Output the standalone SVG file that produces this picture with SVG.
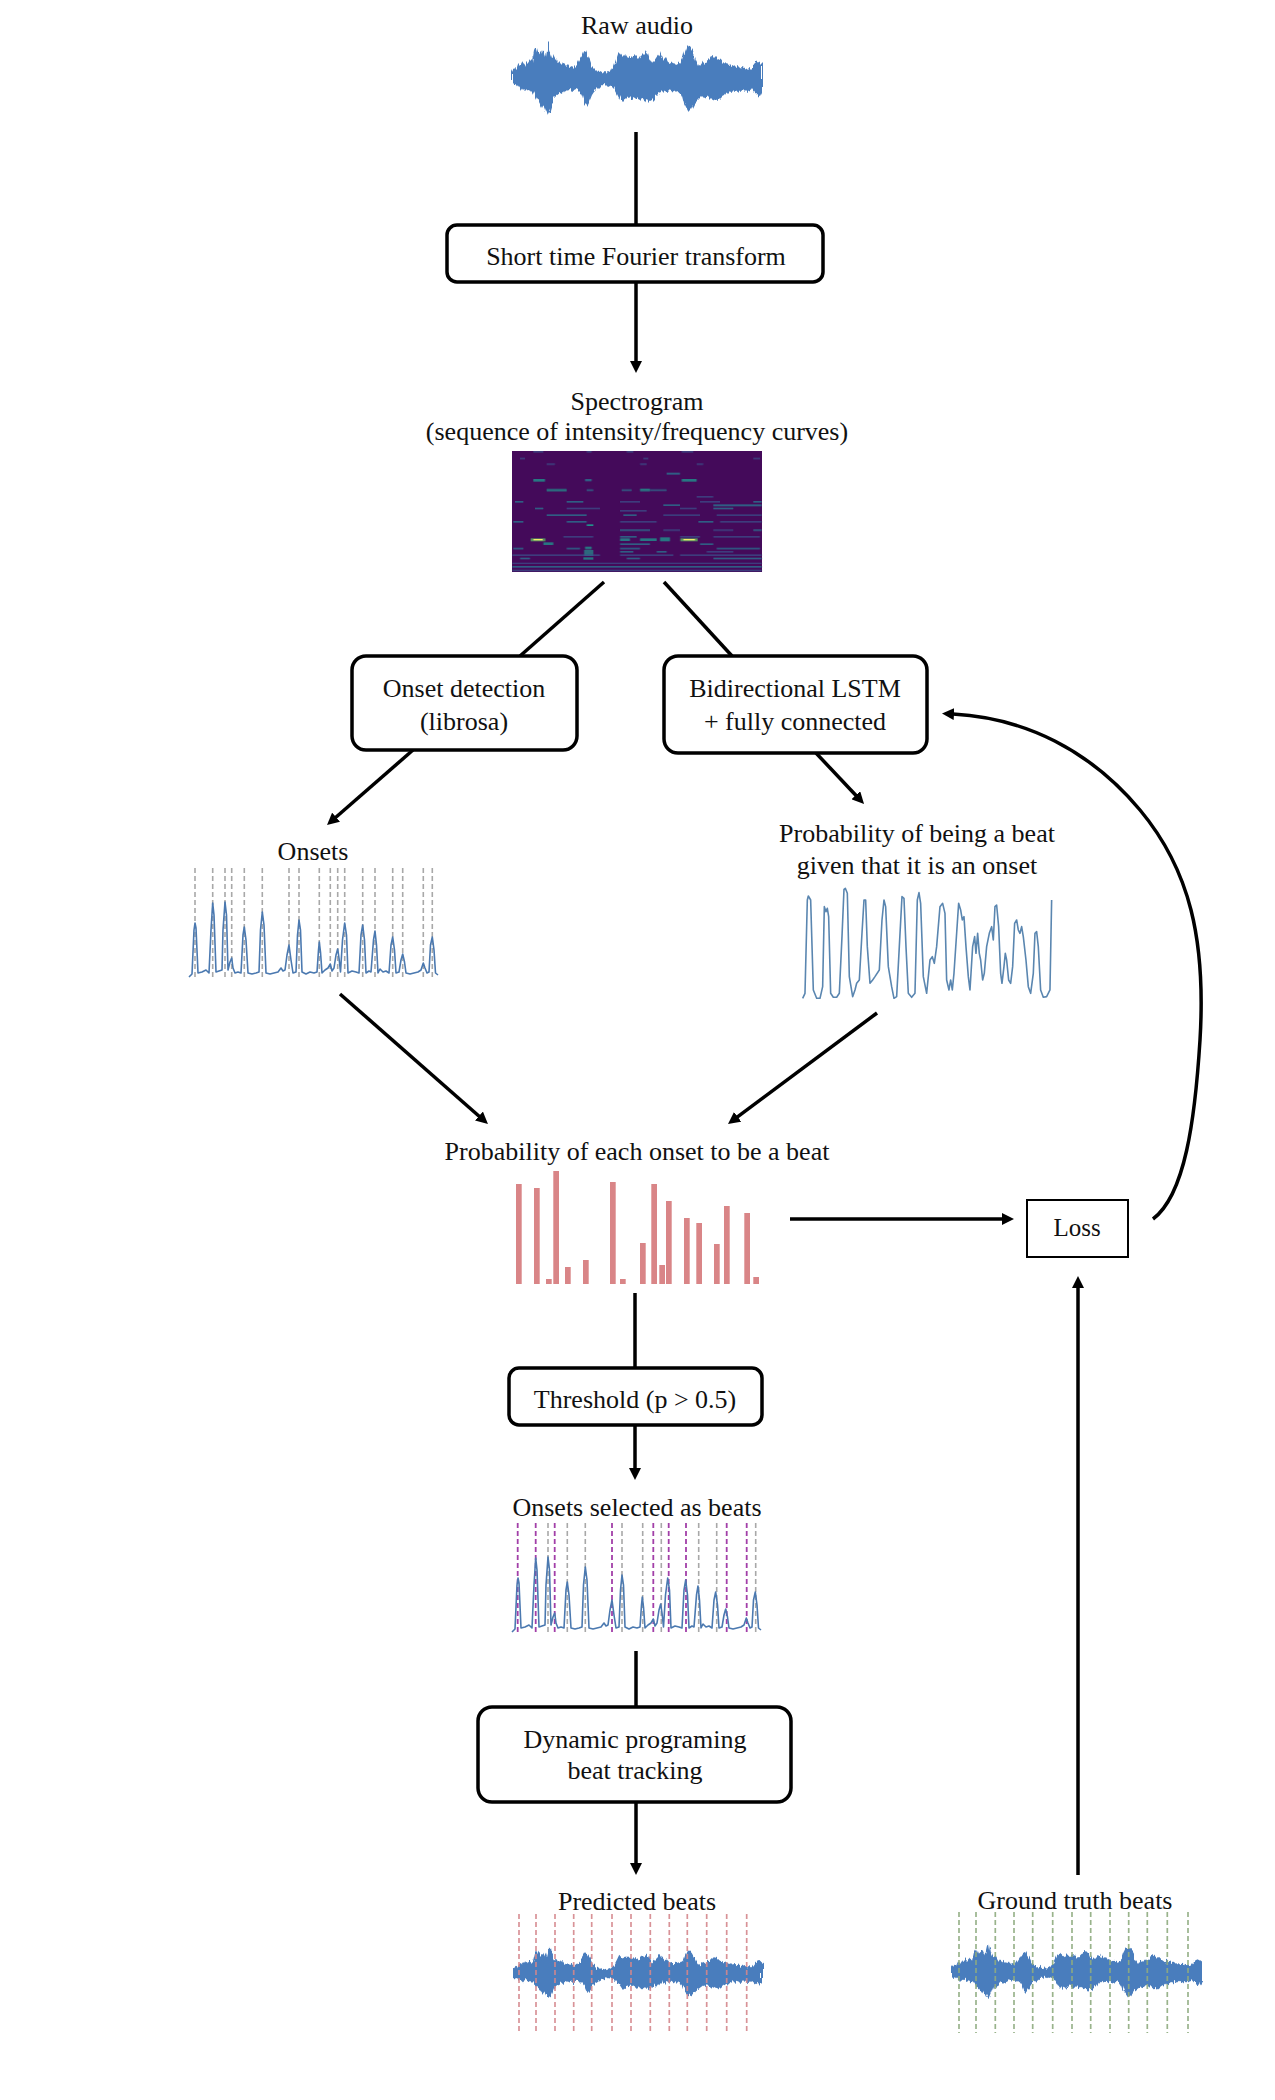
<svg xmlns="http://www.w3.org/2000/svg" xmlns:xlink="http://www.w3.org/1999/xlink" width="1275" height="2100" viewBox="0 0 1275 2100">
<style>
text{font-family:"Liberation Serif","Times New Roman",serif;font-size:26px;fill:#111;text-anchor:middle}
.box{fill:#fff;stroke:#000;stroke-width:3.5}
.conn{fill:none;stroke:#000;stroke-width:3.5}
.wave{fill:#4a7dbd}
.gdash{stroke:#a8a8a8;stroke-width:1.6;stroke-dasharray:5 3}
.pdash{stroke:#a23fa8;stroke-width:1.8;stroke-dasharray:5 3}
.rdash{stroke:#d4878c;stroke-width:1.7;stroke-dasharray:5 3;opacity:.9}
.grdash{stroke:#8fab7f;stroke-width:1.7;stroke-dasharray:5 3;opacity:.9}
.curve{fill:none;stroke:#4b79b0;stroke-width:1.6;stroke-linejoin:round}
.bar{fill:#d98587}
.s1{fill:#3b528b;opacity:.7}
.s2{fill:#2c728e;opacity:.8}
.s3{fill:#21918c}
.s4{fill:#5ec962;opacity:.7}
.s5{fill:#f4ec6a}
</style>
<defs>
<marker id="arr" markerUnits="userSpaceOnUse" markerWidth="12" markerHeight="12" refX="1" refY="6" orient="auto">
<path d="M0,0 L12,6 L0,12 z" fill="#000"/>
</marker>
<filter id="jag" x="-3%" y="-30%" width="106%" height="160%">
<feTurbulence type="fractalNoise" baseFrequency="0.45 0.03" numOctaves="2" seed="7" result="n"/>
<feDisplacementMap in="SourceGraphic" in2="n" scale="7" xChannelSelector="R" yChannelSelector="G"/>
</filter>
<filter id="soft" x="-5%" y="-5%" width="110%" height="110%">
<feGaussianBlur stdDeviation="0.6"/>
</filter>
<path id="wave" d="M512,72 L514,68 516,70 518,64 520,66 522,62 524,65 526,61 528,63 530,60 532,62 534,50 536,46 537,48 539,55 541,52 543,50 545,56 547,44 549,42 550,50 552,56 554,60 556,58 558,63 560,61 562,65 564,63 566,66 568,64 570,67 572,66 574,68 576,66 578,62 580,58 582,55 584,50 586,51 588,56 590,60 592,66 594,68 596,70 598,72 600,71 602,73 604,72 606,74 608,71 610,72 612,68 614,66 616,60 618,54 620,52 622,55 624,57 626,54 628,57 630,56 632,58 634,55 636,57 638,59 640,56 642,54 644,52 646,50 648,53 650,60 652,63 654,61 656,58 658,55 660,52 662,57 664,60 666,58 668,62 670,63 672,64 674,63 676,65 678,64 680,63 682,60 684,52 686,46 688,44 690,47 692,50 694,55 696,62 698,66 700,65 702,62 704,64 706,61 708,60 710,58 712,55 714,56 716,58 718,60 720,59 722,62 724,64 726,63 728,65 730,64 732,66 734,65 736,67 738,66 740,68 742,67 744,68 746,69 748,68 750,70 752,68 754,64 756,62 758,61 760,62 762,64 L762,92 760,96 758,95 756,94 754,92 752,89 750,90 748,91 746,90 744,92 742,91 740,90 738,92 736,91 734,90 732,92 730,91 728,93 726,92 724,95 722,96 720,98 718,100 716,99 714,101 712,100 710,98 708,96 706,97 704,98 702,96 700,98 698,100 696,102 694,104 692,108 690,110 688,112 686,108 684,104 682,96 680,92 678,91 676,90 674,92 672,91 670,90 668,92 666,91 664,92 662,90 660,92 658,96 656,94 654,98 652,100 650,101 648,103 646,100 644,101 642,98 640,100 638,99 636,97 634,99 632,98 630,96 628,97 626,99 624,100 622,102 620,100 618,96 616,92 614,88 612,86 610,85 608,86 606,84 604,86 602,85 600,87 598,88 596,90 594,92 592,95 590,100 588,104 586,106 584,103 582,96 580,92 578,90 576,89 574,90 572,91 570,89 568,90 566,92 564,91 562,94 560,93 556,96 554,98 552,105 550,112 548,114 546,110 544,104 542,108 540,104 538,100 536,98 534,94 532,90 530,92 528,89 526,90 524,88 522,90 520,87 518,88 516,85 514,86 512,84 z"/>
<path id="onsetCurve" d="M189,977 L192,974 L194,930 L195,923 L196,928 L198,973 L202,972 L206,970 L209,973 L211,930 L212.7,903 L214,915 L216,972 L219,971 L222,970 L223,930 L225,902 L226.5,915 L228,970 L230,962 L231.7,958 L233,968 L235,973 L238,972 L241,973 L243,935 L244.3,927 L246,940 L248,973 L252,974 L256,973 L259,972 L260.5,930 L262.3,912 L264,925 L266,973 L270,974 L274,973 L278,972 L281,968 L283,971 L285,970 L287,955 L289,945 L291,960 L293,973 L296,972 L297.5,935 L299,920 L300.5,930 L302,972 L306,974 L310,972 L314,973 L317,972 L318.5,950 L319.3,942 L320.5,952 L322,973 L325,970 L328,968 L330.3,964 L332,971 L334,968 L336,955 L337.7,949 L339,958 L340.5,972 L342.5,940 L344.7,923 L346.5,935 L348,973 L352,971 L356,972 L359,973 L361,935 L362.7,925 L364.5,940 L366,973 L369,971 L371,972 L373.5,940 L375,931 L376.5,945 L378,973 L380,969 L383,972 L386,971 L389,973 L391,945 L392.7,937 L394.5,950 L396,973 L399,972 L401,960 L402.7,954 L404.5,962 L406,973 L410,974 L414,973 L418,972 L421,970 L423.3,963 L425,968 L427,973 L429,972 L430.5,945 L432.3,937 L434,950 L435.5,973 L438,975"/>
</defs>

<g id="connectors">
<line class="conn" x1="636" y1="132" x2="636" y2="225"/>
<line class="conn" x1="636" y1="282" x2="636" y2="362" marker-end="url(#arr)"/>
<line class="conn" x1="604" y1="582" x2="520" y2="656"/>
<line class="conn" x1="664" y1="582" x2="732" y2="656"/>
<line class="conn" x1="413" y1="750" x2="335.3" y2="817.8" marker-end="url(#arr)"/>
<line class="conn" x1="816" y1="753" x2="856.5" y2="796" marker-end="url(#arr)"/>
<line class="conn" x1="340" y1="994" x2="479.7" y2="1116.7" marker-end="url(#arr)"/>
<line class="conn" x1="877" y1="1013" x2="736.8" y2="1117.4" marker-end="url(#arr)"/>
<line class="conn" x1="635" y1="1293" x2="635" y2="1368"/>
<line class="conn" x1="790" y1="1219" x2="1003" y2="1219" marker-end="url(#arr)"/>
<path class="conn" d="M1153,1219 C1185,1195 1195,1120 1200,1040 C1206,940 1190,870 1140,810 C1090,750 1025,718 953,714" marker-end="url(#arr)"/>
<line class="conn" x1="635" y1="1425" x2="635" y2="1469" marker-end="url(#arr)"/>
<line class="conn" x1="636" y1="1651" x2="636" y2="1707"/>
<line class="conn" x1="636" y1="1802" x2="636" y2="1864" marker-end="url(#arr)"/>
<line class="conn" x1="1078" y1="1875" x2="1078" y2="1287" marker-end="url(#arr)"/>
</g>

<g id="raw-audio">
<text x="637" y="34">Raw audio</text>
<g filter="url(#jag)"><use xlink:href="#wave" class="wave"/></g>
</g>

<g id="stft">
<rect class="box" x="447" y="225" width="376" height="57" rx="10"/>
<text x="636" y="265">Short time Fourier transform</text>
</g>

<g id="spectrogram">
<text x="637" y="410">Spectrogram</text>
<text x="637" y="440">(sequence of intensity/frequency curves)</text>
<rect x="512" y="451" width="250" height="121" fill="#440a5a"/>
<g transform="translate(500,440) scale(0.3333)" filter="url(#soft)">
<rect class="s1" x="100" y="33" width="30" height="5"/><rect class="s1" x="260" y="33" width="15" height="5"/><rect class="s1" x="380" y="33" width="20" height="5"/><rect class="s1" x="545" y="33" width="35" height="5"/>
<rect class="s1" x="60" y="53" width="15" height="5"/><rect class="s1" x="430" y="53" width="15" height="5"/><rect class="s1" x="760" y="53" width="20" height="5"/>
<rect class="s1" x="140" y="70" width="25" height="5"/><rect class="s1" x="420" y="70" width="20" height="5"/><rect class="s1" x="590" y="70" width="20" height="5"/>
<rect class="s2" x="500" y="98" width="40" height="6"/>
<rect class="s3" x="100" y="117" width="35" height="8" opacity=".8"/><rect class="s2" x="255" y="117" width="20" height="7"/><rect class="s3" x="545" y="117" width="45" height="8" opacity=".8"/>
<rect class="s3" x="140" y="147" width="60" height="7" opacity=".8"/><rect class="s2" x="260" y="148" width="20" height="5"/><rect class="s2" x="365" y="148" width="30" height="5"/><rect class="s3" x="420" y="146" width="30" height="8" opacity=".8"/><rect class="s2" x="450" y="148" width="50" height="5"/>
<rect class="s1" x="590" y="168" width="50" height="5"/>
<rect class="s2" x="45" y="183" width="25" height="5"/><rect class="s2" x="200" y="183" width="50" height="5"/><rect class="s1" x="360" y="183" width="60" height="5"/><rect class="s1" x="600" y="183" width="60" height="5"/><rect class="s2" x="760" y="183" width="25" height="5"/>
<rect class="s2" x="490" y="193" width="50" height="5"/><rect class="s2" x="640" y="193" width="145" height="6"/>
<rect class="s2" x="105" y="203" width="25" height="5"/><rect class="s1" x="200" y="203" width="100" height="5"/><rect class="s1" x="540" y="203" width="50" height="5"/><rect class="s2" x="640" y="203" width="60" height="5"/>
<rect class="s1" x="360" y="210" width="80" height="5"/>
<rect class="s2" x="140" y="223" width="120" height="5"/><rect class="s2" x="370" y="223" width="40" height="5"/><rect class="s1" x="490" y="223" width="110" height="5"/><rect class="s1" x="650" y="223" width="135" height="5"/>
<rect class="s2" x="40" y="243" width="30" height="5"/><rect class="s2" x="200" y="243" width="60" height="5"/><rect class="s1" x="360" y="243" width="110" height="5"/><rect class="s2" x="595" y="243" width="45" height="5"/><rect class="s1" x="660" y="243" width="125" height="5"/>
<rect class="s3" x="260" y="253" width="20" height="5"/>
<rect class="s2" x="360" y="268" width="90" height="5"/><rect class="s1" x="490" y="268" width="50" height="5"/><rect class="s1" x="640" y="268" width="60" height="5"/><rect class="s2" x="760" y="268" width="25" height="5"/>
<rect class="s1" x="190" y="288" width="90" height="5"/><rect class="s2" x="360" y="288" width="50" height="5"/><rect class="s1" x="540" y="288" width="60" height="5"/><rect class="s1" x="640" y="288" width="140" height="5"/>
<rect class="s4" x="92" y="295" width="44" height="9"/><rect class="s5" x="100" y="297" width="28" height="4"/>
<rect class="s3" x="360" y="295" width="30" height="8" opacity=".8"/><rect class="s3" x="420" y="295" width="50" height="8" opacity=".8"/><rect class="s3" x="480" y="292" width="30" height="12" opacity=".8"/>
<rect class="s4" x="541" y="295" width="52" height="9"/><rect class="s5" x="550" y="297" width="35" height="4"/>
<rect class="s3" x="130" y="307" width="30" height="8" opacity=".8"/><rect class="s2" x="360" y="310" width="90" height="5"/><rect class="s2" x="600" y="310" width="40" height="5"/>
<rect class="s2" x="40" y="323" width="30" height="5"/><rect class="s2" x="200" y="323" width="40" height="5"/><rect class="s3" x="255" y="320" width="20" height="8" opacity=".8"/><rect class="s2" x="360" y="323" width="60" height="5"/><rect class="s2" x="650" y="323" width="130" height="5"/>
<rect class="s3" x="252" y="330" width="28" height="18" opacity=".7"/><rect class="s2" x="360" y="333" width="40" height="5"/><rect class="s2" x="470" y="333" width="30" height="5"/><rect class="s1" x="620" y="333" width="80" height="5"/>
<rect class="s1" x="37" y="343" width="263" height="5"/><rect class="s1" x="360" y="343" width="160" height="5"/><rect class="s1" x="540" y="343" width="245" height="5"/>
<rect class="s2" x="60" y="353" width="30" height="5"/><rect class="s3" x="250" y="352" width="30" height="7" opacity=".8"/><rect class="s2" x="380" y="353" width="40" height="5"/><rect class="s2" x="640" y="353" width="145" height="5"/>
<rect class="s1" x="37" y="368" width="748" height="4"/>
<rect class="s2" x="37" y="378" width="748" height="5"/>
<rect class="s1" x="37" y="389" width="748" height="5"/>
</g>
</g>

<g id="onset-detection">
<rect class="box" x="352" y="656" width="225" height="94" rx="14"/>
<text x="464" y="697">Onset detection</text>
<text x="464" y="730">(librosa)</text>
</g>

<g id="lstm">
<rect class="box" x="664" y="656" width="263" height="97" rx="14"/>
<text x="795" y="697">Bidirectional LSTM</text>
<text x="795" y="730">+ fully connected</text>
</g>

<g id="onsets">
<text x="313" y="860">Onsets</text>
<g class="gdash">
<line x1="195" y1="868" x2="195" y2="977"/><line x1="212.7" y1="868" x2="212.7" y2="977"/><line x1="225" y1="868" x2="225" y2="977"/><line x1="231.7" y1="868" x2="231.7" y2="977"/><line x1="244.3" y1="868" x2="244.3" y2="977"/><line x1="262.3" y1="868" x2="262.3" y2="977"/><line x1="289" y1="868" x2="289" y2="977"/><line x1="299" y1="868" x2="299" y2="977"/><line x1="319.3" y1="868" x2="319.3" y2="977"/><line x1="330.3" y1="868" x2="330.3" y2="977"/><line x1="337.7" y1="868" x2="337.7" y2="977"/><line x1="344.7" y1="868" x2="344.7" y2="977"/><line x1="362.7" y1="868" x2="362.7" y2="977"/><line x1="375" y1="868" x2="375" y2="977"/><line x1="392.7" y1="868" x2="392.7" y2="977"/><line x1="402.7" y1="868" x2="402.7" y2="977"/><line x1="423.3" y1="868" x2="423.3" y2="977"/><line x1="432.3" y1="868" x2="432.3" y2="977"/>
</g>
<use xlink:href="#onsetCurve" class="curve"/>
</g>

<g id="beat-probability">
<text x="917" y="842">Probability of being a beat</text>
<text x="917" y="874">given that it is an onset</text>
<g transform="translate(720,760) scale(0.3333)">
<path class="curve" style="stroke:#5a86b0;stroke-width:4.8" d="M248,715 L255,700 L262,420 L265,408 L272,420 L280,690 L290,715 L300,715 L308,680 L313,440 L318,455 L322,445 L326,470 L332,700 L340,712 L350,712 L358,700 L366,530 L372,388 L376,385 L382,400 L388,650 L398,710 L405,690 L410,670 L418,660 L426,520 L432,420 L437,420 L442,560 L450,670 L458,660 L465,650 L478,630 L486,480 L492,420 L497,440 L505,620 L515,680 L522,715 L530,710 L538,560 L546,410 L552,415 L558,560 L565,700 L575,712 L585,700 L592,420 L597,398 L602,430 L610,650 L620,700 L630,600 L637,590 L643,610 L650,560 L660,440 L668,430 L675,460 L680,660 L687,690 L692,660 L697,690 L702,640 L710,520 L716,430 L722,450 L727,480 L732,470 L738,560 L745,650 L750,690 L758,560 L764,530 L768,580 L773,520 L778,580 L782,600 L788,660 L793,640 L800,560 L808,520 L815,500 L820,540 L825,440 L830,435 L836,500 L842,640 L846,670 L852,620 L856,580 L860,600 L866,660 L872,670 L878,620 L884,490 L890,480 L895,510 L900,520 L905,500 L910,530 L918,600 L925,680 L932,700 L940,640 L945,520 L950,515 L955,560 L962,690 L970,712 L980,710 L990,690 L995,420"/>
</g>
</g>

<g id="onset-probability">
<text x="637" y="1160">Probability of each onset to be a beat</text>
<g class="bar">
<rect x="516" y="1184" width="5.7" height="100"/><rect x="534" y="1188" width="5.7" height="96"/><rect x="546" y="1279" width="5.7" height="5"/><rect x="553.3" y="1171" width="5.7" height="113"/><rect x="565" y="1267" width="5.7" height="17"/><rect x="583" y="1260" width="5.7" height="24"/><rect x="610" y="1182" width="5.7" height="102"/><rect x="620" y="1279" width="5.7" height="5"/><rect x="640" y="1243" width="5.7" height="41"/><rect x="651.3" y="1184" width="5.7" height="100"/><rect x="659.3" y="1265" width="5.7" height="19"/><rect x="666" y="1201" width="5.7" height="83"/><rect x="684" y="1218" width="5.7" height="66"/><rect x="696.3" y="1223" width="5.7" height="61"/><rect x="714" y="1244" width="5.7" height="40"/><rect x="724" y="1206" width="5.7" height="78"/><rect x="744.3" y="1213" width="5.7" height="71"/><rect x="753.3" y="1277" width="5.7" height="7"/>
</g>
</g>

<g id="loss">
<rect x="1027" y="1200" width="101" height="57" fill="#fff" stroke="#000" stroke-width="2"/>
<text x="1077" y="1236" style="font-size:25px">Loss</text>
</g>

<g id="threshold">
<rect class="box" x="509" y="1368" width="253" height="57" rx="10"/>
<text x="635" y="1408">Threshold (p &gt; 0.5)</text>
</g>

<g id="selected-beats">
<text x="637" y="1516">Onsets selected as beats</text>
<g class="gdash">
<line x1="548" y1="1523" x2="548" y2="1633"/><line x1="567.3" y1="1523" x2="567.3" y2="1633"/><line x1="585.3" y1="1523" x2="585.3" y2="1633"/><line x1="622" y1="1523" x2="622" y2="1633"/><line x1="642.7" y1="1523" x2="642.7" y2="1633"/><line x1="661.3" y1="1523" x2="661.3" y2="1633"/><line x1="698.7" y1="1523" x2="698.7" y2="1633"/><line x1="716.7" y1="1523" x2="716.7" y2="1633"/><line x1="755.7" y1="1523" x2="755.7" y2="1633"/>
</g>
<g class="pdash">
<line x1="517.7" y1="1523" x2="517.7" y2="1633"/><line x1="535.7" y1="1523" x2="535.7" y2="1633"/><line x1="554.7" y1="1523" x2="554.7" y2="1633"/><line x1="612" y1="1523" x2="612" y2="1633"/><line x1="653.3" y1="1523" x2="653.3" y2="1633"/><line x1="668.7" y1="1523" x2="668.7" y2="1633"/><line x1="686" y1="1523" x2="686" y2="1633"/><line x1="726.7" y1="1523" x2="726.7" y2="1633"/><line x1="746.7" y1="1523" x2="746.7" y2="1633"/>
</g>
<use xlink:href="#onsetCurve" class="curve" transform="translate(323,655)"/>
</g>

<g id="dynamic-programming">
<rect class="box" x="478" y="1707" width="313" height="95" rx="14"/>
<text x="635" y="1748">Dynamic programing</text>
<text x="635" y="1779">beat tracking</text>
</g>

<g id="predicted-beats">
<text x="637" y="1910">Predicted beats</text>
<g filter="url(#jag)"><use xlink:href="#wave" class="wave" transform="translate(1,1918.4) scale(1,0.7)"/></g>
<g class="rdash">
<line x1="519" y1="1914" x2="519" y2="2034"/><line x1="536" y1="1914" x2="536" y2="2034"/><line x1="555" y1="1914" x2="555" y2="2034"/><line x1="573.7" y1="1914" x2="573.7" y2="2034"/><line x1="591.7" y1="1914" x2="591.7" y2="2034"/><line x1="612" y1="1914" x2="612" y2="2034"/><line x1="631" y1="1914" x2="631" y2="2034"/><line x1="650.3" y1="1914" x2="650.3" y2="2034"/><line x1="669.3" y1="1914" x2="669.3" y2="2034"/><line x1="687.3" y1="1914" x2="687.3" y2="2034"/><line x1="706.7" y1="1914" x2="706.7" y2="2034"/><line x1="726.7" y1="1914" x2="726.7" y2="2034"/><line x1="746.7" y1="1914" x2="746.7" y2="2034"/>
</g>
</g>

<g id="ground-truth-beats">
<text x="1075" y="1909">Ground truth beats</text>
<g filter="url(#jag)"><use xlink:href="#wave" class="wave" transform="translate(440,1913.5) scale(1,0.75)"/></g>
<g class="grdash">
<line x1="959" y1="1912" x2="959" y2="2033"/><line x1="976" y1="1912" x2="976" y2="2033"/><line x1="995.3" y1="1912" x2="995.3" y2="2033"/><line x1="1014" y1="1912" x2="1014" y2="2033"/><line x1="1032.7" y1="1912" x2="1032.7" y2="2033"/><line x1="1052.7" y1="1912" x2="1052.7" y2="2033"/><line x1="1072" y1="1912" x2="1072" y2="2033"/><line x1="1090.7" y1="1912" x2="1090.7" y2="2033"/><line x1="1110" y1="1912" x2="1110" y2="2033"/><line x1="1128.7" y1="1912" x2="1128.7" y2="2033"/><line x1="1147.3" y1="1912" x2="1147.3" y2="2033"/><line x1="1167.3" y1="1912" x2="1167.3" y2="2033"/><line x1="1188" y1="1912" x2="1188" y2="2033"/>
</g>
</g>
</svg>
